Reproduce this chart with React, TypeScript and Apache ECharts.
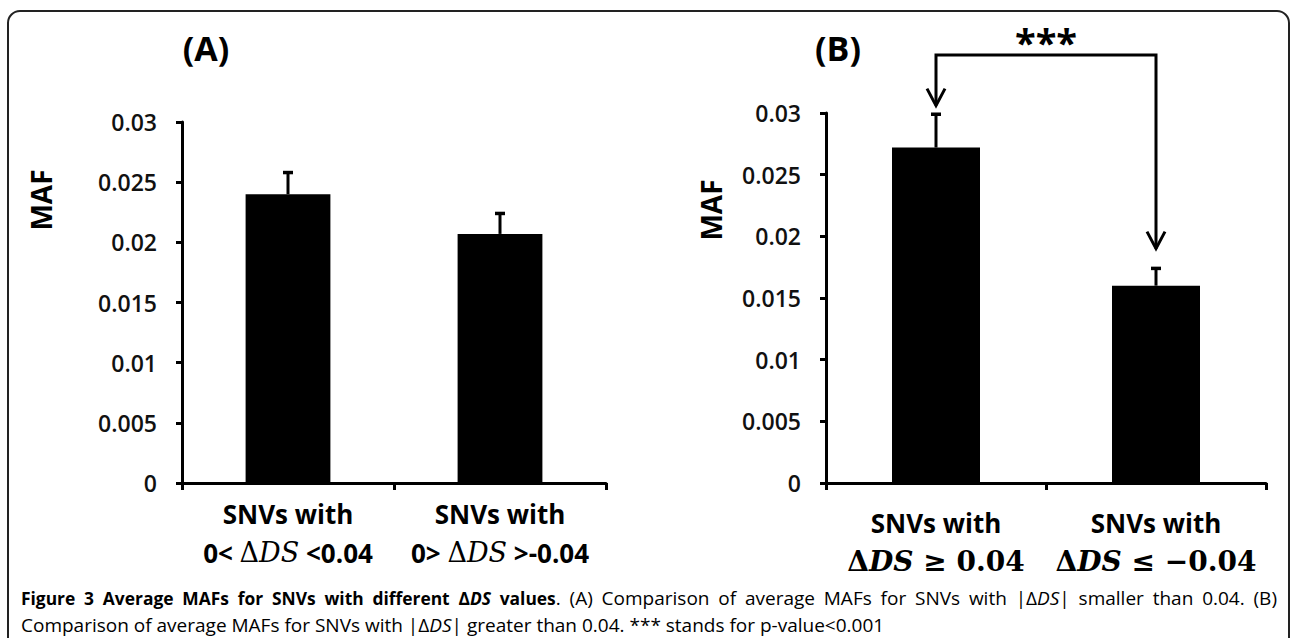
import React, { useEffect, useRef } from "react";
import * as echarts from "echarts";

// ---------- data ----------
const yTicks = [0, 0.005, 0.01, 0.015, 0.02, 0.025, 0.03];
const categoriesA = ["SNVs with\n0< ΔDS <0.04", "SNVs with\n0> ΔDS >-0.04"];
const valuesA = [0.024, 0.0207];
const errTopA = [0.0258, 0.0224];
const categoriesB = ["SNVs with\nΔDS ≥ 0.04", "SNVs with\nΔDS ≤ −0.04"];
const valuesB = [0.0272, 0.016];
const errTopB = [0.0299, 0.0174];
const sigPair = [0, 1];
const sigLabel = "***";
const bracketLevel = 0.0347;
const arrowTips = [0.0306, 0.019];
const panelTitles = ["(A)", "(B)"];
const yAxisTitle = "MAF";
const captionLine1: [string, string][] = [
  ["Figure 3 Average MAFs for SNVs with different Δ", "b"],
  ["DS", "bi"],
  [" values", "b"],
  [". (A) Comparison of average MAFs for SNVs with |Δ", "r"],
  ["DS", "ri"],
  ["| smaller than 0.04. (B)", "r"],
];
const captionLine2: [string, string][] = [
  ["Comparison of average MAFs for SNVs with |Δ", "r"],
  ["DS", "ri"],
  ["| greater than 0.04. *** stands for p-value<0.001", "r"],
];

const SANS = '"Open Sans", "Noto Sans", sans-serif';
const SERIF = '"DejaVu Serif", "Liberation Serif", serif';
const CAP = 19;
const CAPB = 17.4;

const catFormatter = (mathBold: boolean) => (v: string) => {
  const [l1, l2] = v.split("\n");
  const i = l2.indexOf("ΔDS");
  const pre = l2.slice(0, i);
  const post = l2.slice(i + 3);
  let s = `{t|${l1}}\n`;
  if (pre) s += `{t|${pre}}`;
  s += mathBold ? `{db|Δ}{mb|DS}` : `{d|Δ}{m|DS}`;
  if (post) s += mathBold ? `{sb|${post}}` : `{t|${post}}`;
  return s;
};

const LH = 39;
const catRich = {
  t: { fontFamily: SANS, fontWeight: "bold", fontSize: 26, lineHeight: LH, color: "#000" },
  d: { fontFamily: SERIF, fontSize: 27, lineHeight: LH, color: "#000" },
  m: { fontFamily: SERIF, fontStyle: "italic", fontSize: 27, lineHeight: LH, color: "#000" },
  db: { fontFamily: SERIF, fontWeight: "bold", fontSize: 28, lineHeight: LH, color: "#000" },
  mb: { fontFamily: SERIF, fontWeight: "bold", fontStyle: "italic", fontSize: 28, lineHeight: LH, color: "#000" },
  sb: { fontFamily: SERIF, fontWeight: "bold", fontSize: 28, lineHeight: LH, color: "#000" },
};

const yFmt = (v: number) => (v === 0 ? "0" : String(parseFloat(v.toFixed(3))));

const makeX = (gi: number, cats: string[], mathBold: boolean, margin: number) => ({
  type: "category",
  gridIndex: gi,
  data: cats,
  axisLine: { lineStyle: { color: "#000", width: 3 } },
  axisTick: { show: true, length: 7, lineStyle: { color: "#000", width: 3 } },
  axisLabel: {
    interval: 0,
    margin,
    formatter: catFormatter(mathBold),
    rich: catRich,
    color: "#000",
  },
  splitLine: { show: false },
});

const makeY = (gi: number) => ({
  type: "value",
  gridIndex: gi,
  min: yTicks[0],
  max: yTicks[yTicks.length - 1],
  interval: yTicks[1] - yTicks[0],
  axisLine: { show: true, lineStyle: { color: "#000", width: 3 } },
  axisTick: { show: true, length: 6, lineStyle: { color: "#000", width: 3 } },
  axisLabel: {
    margin: 25,
    formatter: yFmt,
    fontFamily: SANS,
    fontWeight: 600,
    fontSize: 23,
    color: "#111",
  },
  splitLine: { show: false },
});

const errSeries = (gi: number, vals: number[], tops: number[]) => ({
  type: "custom",
  xAxisIndex: gi,
  yAxisIndex: gi,
  z: 5,
  data: vals.map((v, i) => [i, v, tops[i]]),
  renderItem: (_p: any, api: any) => {
    const base = api.coord([api.value(0), api.value(1)]);
    const top = api.coord([api.value(0), api.value(2)]);
    return {
      type: "group",
      children: [
        { type: "line", shape: { x1: base[0], y1: base[1], x2: top[0], y2: top[1] }, style: { stroke: "#000", lineWidth: 3 } },
        { type: "line", shape: { x1: top[0] - 5, y1: top[1], x2: top[0] + 5, y2: top[1] }, style: { stroke: "#000", lineWidth: 3.5 } },
      ],
    };
  },
});

const bracketSeries = {
  type: "custom",
  xAxisIndex: 1,
  yAxisIndex: 1,
  z: 6,
  clip: false,
  data: [[sigPair[0], sigPair[1]]],
  renderItem: (_p: any, api: any) => {
    const a = api.value(0);
    const b = api.value(1);
    const l = api.coord([a, arrowTips[0]]);
    const lt = api.coord([a, bracketLevel]);
    const r = api.coord([b, arrowTips[1]]);
    const rt = api.coord([b, bracketLevel]);
    const head = (p: number[]) => ({
      type: "polyline",
      shape: { points: [[p[0] - 9, p[1] - 17], [p[0], p[1]], [p[0] + 9, p[1] - 17]] },
      style: { stroke: "#000", lineWidth: 3, fill: "none" },
    });
    return {
      type: "group",
      children: [
        { type: "polyline", shape: { points: [l, lt, rt, r] }, style: { stroke: "#000", lineWidth: 3, fill: "none" } },
        head(l),
        head(r),
        {
          type: "text",
          x: (lt[0] + rt[0]) / 2,
          y: lt[1] + 6,
          style: { text: sigLabel, align: "center", verticalAlign: "bottom", font: `bold 38px ${SANS}`, fill: "#000" },
        },
      ],
    };
  },
};

const capRich = {
  b: { fontFamily: SANS, fontWeight: "bold", fontSize: CAPB, color: "#000" },
  bi: { fontFamily: SANS, fontWeight: "bold", fontStyle: "italic", fontSize: CAPB, color: "#000" },
  r: { fontFamily: SANS, fontSize: CAP, color: "#111" },
  ri: { fontFamily: SANS, fontStyle: "italic", fontSize: CAP, color: "#111" },
};
const capFont = (s: string) =>
  `${s.endsWith("i") ? "italic " : ""}${s.startsWith("b") ? "bold " : ""}${s.startsWith("b") ? CAPB : CAP}px "Open Sans"`;

const richOf = (pieces: [string, string][]) => pieces.map(([t, s]) => `{${s}|${t}}`).join("");

// justified line: split into words, spread across [x0, x1]
const justified = (segs: [string, string][], x0: number, x1: number, y: number) => {
  const words: [string, string][][] = [[]];
  segs.forEach(([text, style]) => {
    text.split(" ").forEach((part, j) => {
      if (j > 0) words.push([]);
      if (part) words[words.length - 1].push([part, style]);
    });
  });
  const ws = words.filter((w) => w.length > 0);
  const ctx = document.createElement("canvas").getContext("2d") as CanvasRenderingContext2D;
  const widths = ws.map((w) =>
    w.reduce((acc, [t, s]) => {
      ctx.font = capFont(s);
      return acc + ctx.measureText(t).width;
    }, 0)
  );
  const total = widths.reduce((a, b) => a + b, 0);
  const gap = (x1 - x0 - total) / (ws.length - 1);
  let x = x0;
  return ws.map((w, i) => {
    const el = {
      type: "text",
      x,
      y,
      style: { text: richOf(w), rich: capRich, align: "left", verticalAlign: "middle" },
    };
    x += widths[i] + gap;
    return el;
  });
};

export default function App() {
  const ref = useRef<HTMLDivElement>(null);
  useEffect(() => {
    if (!ref.current) return;
    const chart = echarts.init(ref.current, null, { renderer: "svg" });
    chart.setOption({
      animation: false,
      backgroundColor: "#fff",
      grid: [
        { left: 182, right: 686, top: 122, bottom: 155 },
        { left: 826, right: 26, top: 113, bottom: 155 },
      ],
      xAxis: [makeX(0, categoriesA, false, 11), makeX(1, categoriesB, true, 20)],
      yAxis: [makeY(0), makeY(1)],
      series: [
        { type: "bar", xAxisIndex: 0, yAxisIndex: 0, data: valuesA, barWidth: "40%", itemStyle: { color: "#000" } },
        { type: "bar", xAxisIndex: 1, yAxisIndex: 1, data: valuesB, barWidth: "40%", itemStyle: { color: "#000" } },
        errSeries(0, valuesA, errTopA),
        errSeries(1, valuesB, errTopB),
        bracketSeries,
      ],
      graphic: [
        {
          type: "rect",
          shape: { x: 8, y: 11, width: 1281, height: 700, r: 12 },
          style: { stroke: "#222", lineWidth: 2, fill: "none" },
          silent: true,
        },
        { type: "text", x: 206, y: 48, style: { text: panelTitles[0], align: "center", verticalAlign: "middle", font: `bold 34px ${SANS}`, fill: "#000" } },
        { type: "text", x: 838, y: 48, style: { text: panelTitles[1], align: "center", verticalAlign: "middle", font: `bold 34px ${SANS}`, fill: "#000" } },
        { type: "text", x: 41, y: 200, rotation: Math.PI / 2, style: { text: yAxisTitle, align: "center", verticalAlign: "middle", font: `bold 28px ${SANS}`, fill: "#000" } },
        { type: "text", x: 711, y: 210, rotation: Math.PI / 2, style: { text: yAxisTitle, align: "center", verticalAlign: "middle", font: `bold 28px ${SANS}`, fill: "#000" } },
        ...justified(captionLine1, 21, 1277, 598),
        {
          type: "text",
          x: 21,
          y: 625,
          style: { text: richOf(captionLine2), rich: capRich, align: "left", verticalAlign: "middle" },
        },
      ],
    });
    return () => chart.dispose();
  }, []);
  return (
    <div
      ref={ref}
      style={{ position: "fixed", left: 0, top: 0, width: 1292, height: 638, background: "#fff" }}
    />
  );
}
